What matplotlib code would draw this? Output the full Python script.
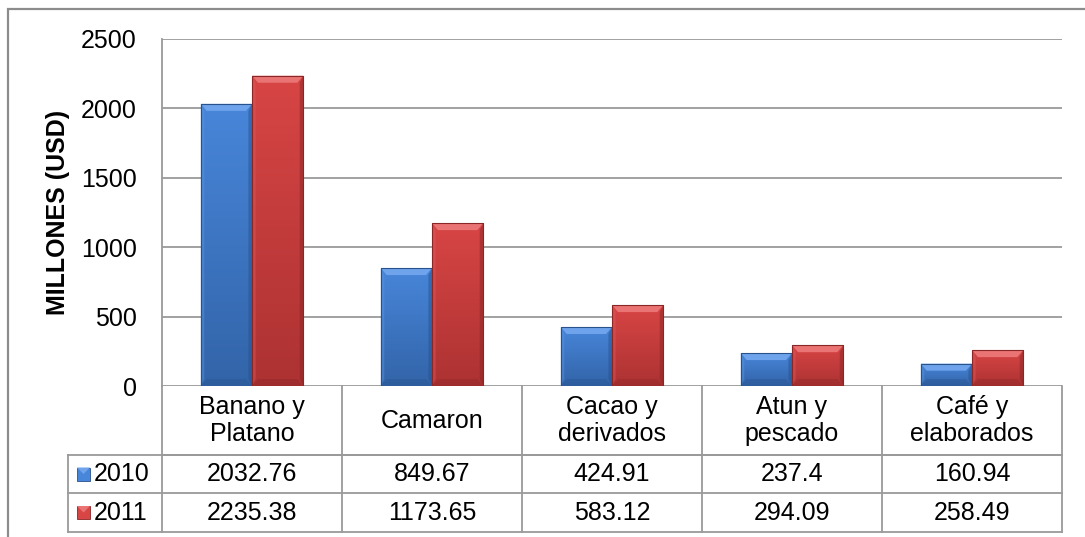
import matplotlib
matplotlib.use("Agg")
import matplotlib.pyplot as plt
import numpy as np
from matplotlib.patches import Rectangle, Polygon
from matplotlib.colors import LinearSegmentedColormap
import matplotlib.transforms as mtransforms

plt.rcParams['font.family'] = ['Liberation Sans', 'DejaVu Sans']

categories = ["Banano y\nPlatano", "Camaron", "Cacao y\nderivados", "Atun y\npescado", "Café y\nelaborados"]
series_names = ["2010", "2011"]
values_2010 = [2032.76, 849.67, 424.91, 237.4, 160.94]
values_2011 = [2235.38, 1173.65, 583.12, 294.09, 258.49]
labels_2010 = ["2032.76", "849.67", "424.91", "237.4", "160.94"]
labels_2011 = ["2235.38", "1173.65", "583.12", "294.09", "258.49"]
yticks = [0, 500, 1000, 1500, 2000, 2500]

W, H = 1085, 537
fig = plt.figure(figsize=(W / 100, H / 100), dpi=100)
fig.patch.set_facecolor("white")

# outer chart frame (runs off the bottom/right edge)
fig.add_artist(Rectangle((8 / W, -0.05), 1.2, 1 - 9 / H + 0.05, transform=fig.transFigure,
                         fill=False, edgecolor="#8c8c8c", lw=1.6))

ax = fig.add_axes([162 / W, 1 - 386 / H, 900 / W, 347 / H])
x = np.arange(len(categories))
bw = 0.285

fs = 18
grid_c = "#9a9a9a"
ax.set_ylim(0, 2500)
ax.set_xlim(-0.5, len(categories) - 0.5)
ax.set_yticks(yticks)
ax.set_yticklabels([str(t) for t in yticks], fontsize=fs)
ax.tick_params(axis="y", length=0, pad=18)
ax.set_xticks([])
for s in ["top", "right", "bottom"]:
    ax.spines[s].set_visible(False)
ax.spines["left"].set_color(grid_c)
ax.spines["left"].set_linewidth(1.3)
for t in yticks:
    ax.axhline(t, color=grid_c, lw=1.3, zorder=0)

ax.set_ylabel("MILLONES (USD)", fontsize=18, fontweight="bold")
ax.yaxis.set_label_coords(-(162 - 70) / 900, 0.5)

styles = {
    "2010": dict(top="#4886da", bottom="#3264a8", bevel="#6fa4ec", dark="#28528c", light="#5a95e2"),
    "2011": dict(top="#d84545", bottom="#ad3232", bevel="#ea7474", dark="#8a2626", light="#dd5a5a"),
}

px_x = 180.0           # pixels per category unit
px_y = 347.0 / 2500.0  # pixels per value unit


def shade_bar(patch, st):
    x0, y0 = patch.get_x(), patch.get_y()
    w, h = patch.get_width(), patch.get_height()
    cmap = LinearSegmentedColormap.from_list("g", [st["bottom"], st["top"]])
    grad = np.linspace(0, 1, 256).reshape(-1, 1)
    im = ax.imshow(grad, cmap=cmap, aspect="auto", origin="lower",
                   extent=(x0, x0 + w, y0, y0 + h), zorder=2)
    im.set_clip_path(patch)
    bx = 6 / px_x
    by = min(7 / px_y, h / 2)
    top = y0 + h
    # top bevel
    ax.add_patch(Polygon([(x0, top), (x0 + w, top), (x0 + w - bx, top - by), (x0 + bx, top - by)],
                         closed=True, facecolor=st["bevel"], edgecolor="none", zorder=3))
    # bottom bevel
    ax.add_patch(Polygon([(x0, y0), (x0 + w, y0), (x0 + w - bx, y0 + by), (x0 + bx, y0 + by)],
                         closed=True, facecolor=st["dark"], edgecolor="none", alpha=0.35, zorder=3))
    # right bevel
    ax.add_patch(Polygon([(x0 + w, top), (x0 + w, y0), (x0 + w - bx * 0.6, y0 + by), (x0 + w - bx * 0.6, top - by)],
                         closed=True, facecolor=st["dark"], edgecolor="none", alpha=0.5, zorder=3))
    # left bevel
    ax.add_patch(Polygon([(x0, top), (x0, y0), (x0 + bx * 0.6, y0 + by), (x0 + bx * 0.6, top - by)],
                         closed=True, facecolor=st["light"], edgecolor="none", alpha=0.45, zorder=3))
    ax.add_patch(Rectangle((x0, y0), w, h, fill=False, edgecolor=st["dark"], lw=0.8, zorder=4))


for vals, name, off in [(values_2010, "2010", -bw / 2), (values_2011, "2011", bw / 2)]:
    bars = ax.bar(x + off, vals, width=bw, color="none", edgecolor="none", zorder=2)
    for p in bars:
        shade_bar(p, styles[name])

# data table beneath the axis
tr = mtransforms.blended_transform_factory(ax.transData, ax.transAxes)
r_head = -69 / 347
r1 = -107 / 347
r2 = -146 / 347
leg_left = -0.5 - 94 / px_x
tc = "#9a9a9a"
lw_t = 1.3

def hline(x0, x1, y):
    ax.plot([x0, x1], [y, y], transform=tr, color=tc, lw=lw_t, clip_on=False, zorder=1)

def vline(xx, y0, y1):
    ax.plot([xx, xx], [y0, y1], transform=tr, color=tc, lw=lw_t, clip_on=False, zorder=1)

right = len(categories) - 0.5
hline(-0.5, right, r_head)
hline(leg_left, right, r_head)
hline(leg_left, right, r1)
hline(leg_left, right, r2)
vline(-0.5, 0, r2)
vline(leg_left, r_head, r2)
for i in range(1, len(categories) + 1):
    vline(i - 0.5, 0, r2)

for i, c in enumerate(categories):
    ax.text(i, r_head / 2, c, transform=tr, ha="center", va="center", fontsize=fs,
            linespacing=1.12, clip_on=False)
    ax.text(i, (r_head + r1) / 2, labels_2010[i], transform=tr, ha="center", va="center",
            fontsize=fs, clip_on=False)
    ax.text(i, (r1 + r2) / 2, labels_2011[i], transform=tr, ha="center", va="center",
            fontsize=fs, clip_on=False)

# legend keys inside the table
key_w = 13 / px_x
key_h = 13 / 347
for name, (ya, yb) in zip(series_names, [(r_head, r1), (r1, r2)]):
    st = styles[name]
    yc = (ya + yb) / 2
    kx = leg_left + 9 / px_x
    ax.add_patch(Rectangle((kx, yc - key_h / 2), key_w, key_h, transform=tr,
                           facecolor=st["top"], edgecolor=st["dark"], lw=0.6, clip_on=False))
    ax.add_patch(Polygon([(kx, yc + key_h / 2), (kx + key_w, yc + key_h / 2),
                          (kx + key_w / 2, yc)], transform=tr, closed=True,
                         facecolor=st["bevel"], edgecolor="none", clip_on=False))
    ax.text(kx + key_w + 4 / px_x, yc, name, transform=tr, ha="left", va="center",
            fontsize=fs, clip_on=False)

fig.savefig("out.png", dpi=100)
